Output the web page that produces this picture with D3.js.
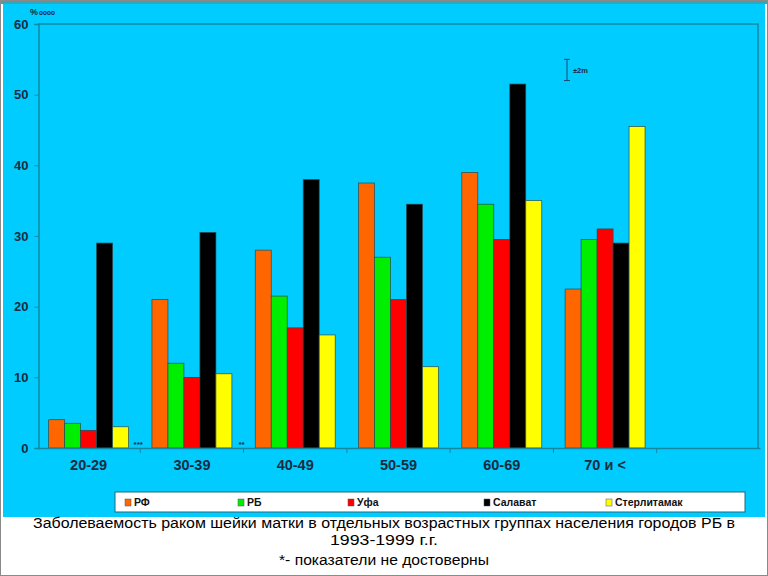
<!DOCTYPE html>
<html><head><meta charset="utf-8">
<script src="https://cdn.jsdelivr.net/npm/d3@7/dist/d3.min.js"></script>
<style>html,body{margin:0;padding:0;background:#fff;}svg{display:block;}</style>
</head><body>
<script>
const categories = ["20-29","30-39","40-49","50-59","60-69","70 и <",""];
const series = ["РФ","РБ","Уфа","Салават","Стерлитамак"];
const colors = ["#FF6600","#00EE00","#FF0000","#000000","#FFFF00"];
const valuesRF   = [4, 21, 28, 37.5, 39, 22.5, null];
const valuesRB   = [3.5, 12, 21.5, 27, 34.5, 29.5, null];
const valuesUfa  = [2.5, 10, 17, 21, 29.5, 31, null];
const valuesSal  = [29, 30.5, 38, 34.5, 51.5, 29, null];
const valuesSter = [3, 10.5, 16, 11.5, 35, 45.5, null];
const yTicks = [0,10,20,30,40,50,60];
const asterisks = [{after:"20-29", text:"***"},{after:"30-39", text:"**"}];
const caption = ["Заболеваемость раком шейки матки в отдельных возрастных группах населения городов РБ в","1993-1999 г.г.","*- показатели не достоверны"];

const allValues = [valuesRF, valuesRB, valuesUfa, valuesSal, valuesSter];

(function(){
const W = 768, H = 576;
const svg = d3.select("body").append("svg").attr("width", W).attr("height", H);

// frame
svg.append("rect").attr("x",0).attr("y",0).attr("width",W).attr("height",H).attr("fill","#fff");
svg.append("rect").attr("x",3).attr("y",4).attr("width",762).attr("height",513).attr("fill","#00CCFF");
svg.append("rect").attr("x",0).attr("y",0).attr("width",W).attr("height",4).attr("fill","#2FA9B8");
svg.append("rect").attr("x",0.5).attr("y",0.5).attr("width",W-1).attr("height",H-1).attr("fill","none").attr("stroke","#8a8a8a").attr("stroke-width",1);

const pL = 37, pR = 760, pT = 24, pB = 448;
const x0 = d3.scaleBand().domain(categories).range([pL, pR]).padding(0);
const x1 = d3.scaleBand().domain(series).range([x0.bandwidth()*0.113, x0.bandwidth()*0.887]).padding(0);
const y = d3.scaleLinear().domain([0,60]).range([pB, pT]);

const axisColor = "#1388A0";
svg.append("path").attr("d", `M${pL+1},${pT}H${pR-2}V${pB}`).attr("fill","none").attr("stroke",axisColor).attr("stroke-width",1.5);

// bars
const g = svg.append("g");
series.forEach((s, si) => {
  g.selectAll(null).data(categories.map((c,i)=>({c, v: allValues[si][i]})).filter(d=>d.v!=null))
    .enter().append("rect")
    .attr("x", d => x0(d.c) + x1(s))
    .attr("y", d => y(d.v))
    .attr("width", x1.bandwidth())
    .attr("height", d => y(0) - y(d.v))
    .attr("fill", colors[si])
    .attr("stroke", "#2a4a50").attr("stroke-width", 0.7);
});

// y axis
const yAxis = d3.axisLeft(y).tickValues(yTicks).tickSize(4).tickPadding(6);
const ya = svg.append("g").attr("transform", `translate(${pL+1.5},0)`).call(yAxis);
ya.select(".domain").attr("stroke", axisColor).attr("stroke-width",1.5);
ya.selectAll(".tick line").attr("stroke", axisColor);
ya.selectAll(".tick text").attr("font-family","Liberation Sans, Arial, sans-serif").attr("font-weight","bold").attr("font-size","13px").attr("fill","#1B2B40");

// x axis
const xAxis = d3.axisBottom(x0).tickSize(0).tickPadding(12);
const xa = svg.append("g").attr("transform", `translate(0,${pB})`).call(xAxis);
xa.select(".domain").attr("stroke", axisColor).attr("stroke-width",1.5);
xa.selectAll(".tick text").attr("font-family","Liberation Sans, Arial, sans-serif").attr("font-weight","bold").attr("font-size","14.5px").attr("fill","#1B2B40");
xa.selectAll(null).data(categories.slice(1)).enter().append("line")
  .attr("x1", d => x0(d)).attr("x2", d => x0(d)).attr("y1", 0).attr("y2", 5)
  .attr("stroke", axisColor).attr("stroke-width",1);

// asterisks
svg.selectAll(null).data(asterisks).enter().append("text")
  .attr("x", d => x0(d.after) + x0.bandwidth() - 2)
  .attr("y", pB - 1)
  .attr("text-anchor","middle")
  .attr("font-family","Liberation Sans, Arial, sans-serif").attr("font-weight","bold").attr("font-size","8px").attr("fill","#1B2B40")
  .text(d => d.text);

// unit label
const ul = svg.append("text").attr("x", 30).attr("y", 15).attr("font-family","Liberation Sans, Arial, sans-serif").attr("font-weight","bold").attr("fill","#1B2B40");
ul.append("tspan").attr("font-size","9px").text("%");
ul.append("tspan").attr("font-size","6.5px").attr("dx",1).text("oooo");

// error bar legend
const eb = svg.append("g").attr("stroke","#1B4B70").attr("stroke-width",1);
eb.append("line").attr("x1",567).attr("x2",567).attr("y1",y(52)).attr("y2",y(55));
eb.append("line").attr("x1",564).attr("x2",570).attr("y1",y(52)).attr("y2",y(52));
eb.append("line").attr("x1",564).attr("x2",570).attr("y1",y(55)).attr("y2",y(55));
svg.append("text").attr("x",573).attr("y",y(53.5)+3).attr("font-family","Liberation Sans, Arial, sans-serif").attr("font-weight","bold").attr("font-size","7.5px").attr("fill","#1B2B40").text("±2m");

// legend
svg.append("rect").attr("x",115).attr("y",492).attr("width",630).attr("height",20).attr("fill","#fff").attr("stroke","#1a6a80").attr("stroke-width",1);
const legX = [125, 238, 348, 484, 606];
series.forEach((s, i) => {
  svg.append("rect").attr("x", legX[i]).attr("y", 499).attr("width",6).attr("height",7).attr("fill",colors[i]).attr("stroke","#555").attr("stroke-width",0.5);
  svg.append("text").attr("x", legX[i]+9).attr("y", 506).attr("font-family","Liberation Sans Narrow, Liberation Sans, Arial, sans-serif").attr("font-weight","bold").attr("font-size","10.5px").attr("fill","#111").text(s);
});

// caption
const capY = [528, 545, 565];
const capLen = [702, 108, 210];
caption.forEach((t, i) => {
  svg.append("text").attr("x", 384).attr("y", capY[i]).attr("text-anchor","middle")
    .attr("font-family","Liberation Sans Narrow, Liberation Sans, Arial, sans-serif").attr("font-size","14px").attr("fill","#000")
    .attr("textLength", capLen[i]).attr("lengthAdjust","spacingAndGlyphs")
    .text(t);
});
})();
</script>
</body></html>
